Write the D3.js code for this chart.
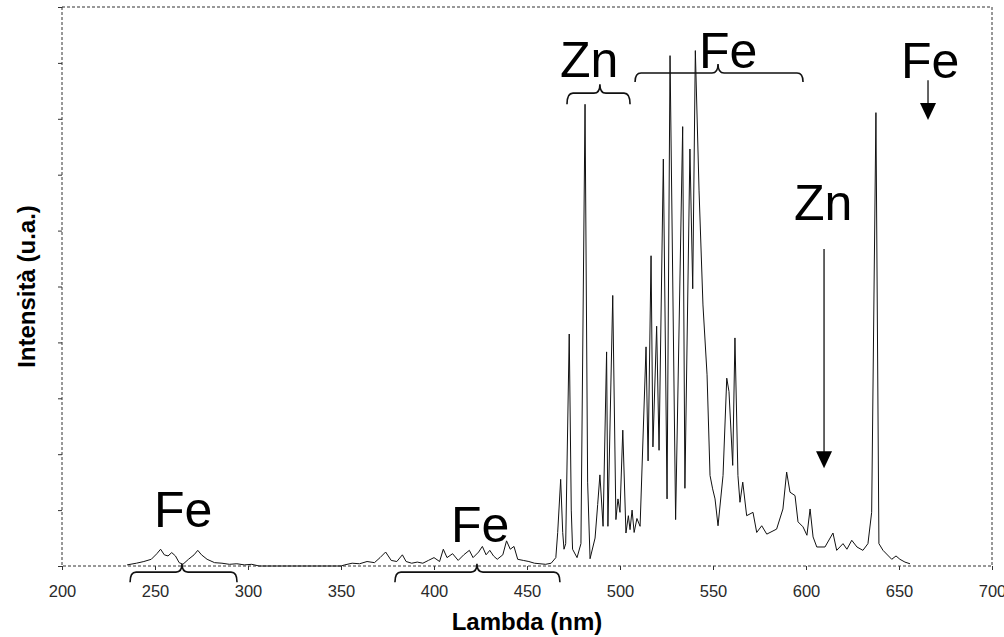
<!DOCTYPE html>
<html>
<head>
<meta charset="utf-8">
<script src="https://cdn.jsdelivr.net/npm/d3@7"></script>
<style>
  body { margin: 0; background: #fff; }
  text { font-family: "Liberation Sans", Arial, sans-serif; }
</style>
</head>
<body>
<svg id="chart" width="1004" height="637"></svg>
<script>
// spectrum: wavelength (nm) and intensity (arbitrary units, 0-10)
const lambda = [
  235, 240, 244, 248, 251, 253, 255, 257, 259, 261, 263, 265, 268, 271, 273, 275, 278, 282, 286, 290,
  294, 298, 302, 306, 350, 352, 356, 360, 364, 368, 371, 374, 377, 380, 383, 385, 388, 391, 394, 397,
  400, 403, 405, 407, 410, 413, 416, 419, 421, 424, 426, 428, 430, 432, 434, 437, 439, 441, 443, 445,
  448, 451, 454, 457, 460, 463, 465.5, 466.5, 468.1, 469.2, 469.9, 470.8, 472.7, 473.8, 474.5, 476.9,
  479.0, 481.2, 482.6, 483.9, 486.6, 488.0, 489.2, 490.9, 492.8, 493.5, 496.1, 497.8, 498.9, 500.0,
  501.5, 503.2, 504.5, 505.4, 506.5, 507.6, 509.1, 510.8, 514.0, 515.1, 516.7, 517.7, 519.7, 521.0,
  523.3, 525.3, 526.9, 529.9, 533.7, 534.9, 537.6, 539.1, 540.5, 542.5, 544.6, 546.8, 548.4, 549.8,
  551.1, 552.7, 555.4, 557.4, 558.6, 560.6, 561.8, 563.4, 564.5, 566.0, 568.1, 571.5, 573.5, 576.2,
  578.9, 584.2, 587.6, 589.6, 591.4, 594.1, 595.7, 598.4, 600.5, 602.2, 603.8, 605.8, 610.2, 614.5,
  616.5, 619.9, 622.0, 624.6, 627.4, 630.6, 633.3, 635.3, 637.6, 639.2, 641.4, 646.1, 648.4, 650.5,
  653.2, 655.9
];
const intensity = [
  0.02, 0.05, 0.08, 0.12, 0.22, 0.30, 0.20, 0.18, 0.24, 0.18, 0.06, 0.03, 0.12, 0.20, 0.28, 0.20, 0.12, 0.06, 0.05, 0.03,
  0.04, 0.02, 0.03, 0.00, 0.00, 0.02, 0.05, 0.04, 0.08, 0.06, 0.15, 0.25, 0.10, 0.08, 0.20, 0.08, 0.05, 0.07, 0.05, 0.10,
  0.15, 0.08, 0.30, 0.15, 0.22, 0.10, 0.20, 0.28, 0.15, 0.25, 0.35, 0.20, 0.28, 0.18, 0.12, 0.20, 0.45, 0.30, 0.35, 0.12,
  0.10, 0.08, 0.05, 0.04, 0.03, 0.05, 0.15, 0.60, 1.55, 0.60, 0.30, 0.40, 4.15, 1.00, 0.30, 0.15,
  0.40, 8.26, 1.50, 0.13, 0.50, 1.10, 1.63, 0.71, 3.83, 0.71, 4.84, 0.83, 1.20, 0.96,
  2.43, 0.59, 0.90, 0.65, 1.00, 0.60, 0.85, 0.71, 3.92, 1.88, 5.55, 2.13, 4.29, 2.07,
  7.28, 1.20, 9.13, 0.83, 7.86, 1.39, 7.46, 4.96, 9.22, 6.71, 4.67, 3.42, 1.62, 1.38,
  1.20, 0.72, 1.62, 3.36, 3.12, 1.80, 4.08, 1.62, 1.14, 1.50, 0.90, 0.96, 0.60, 0.72,
  0.57, 0.66, 1.02, 1.68, 1.32, 1.26, 0.79, 0.70, 0.55, 1.02, 0.52, 0.34, 0.34, 0.59,
  0.28, 0.40, 0.30, 0.46, 0.34, 0.28, 0.40, 0.96, 8.11, 0.40, 0.28, 0.12, 0.18, 0.12,
  0.07, 0.04
];

const xTicks = [200, 250, 300, 350, 400, 450, 500, 550, 600, 650, 700];
const yTicks = [0, 1, 2, 3, 4, 5, 6, 7, 8, 9, 10];

// element labels: text, wavelength of left edge, intensity of baseline
const labelText = ['Zn', 'Fe', 'Fe', 'Zn', 'Fe', 'Fe'];
const labelNm   = [467.7, 542.5, 651.1, 593.5, 249.5, 409.1];
const labelV    = [8.75, 8.91, 8.73, 6.19, 0.70, 0.43];

// braces: from, to, tip (nm); bar, tip and end levels (intensity)
const braceFrom = [471.5, 508.1, 236.6, 379.0];
const braceTo   = [505.4, 598.4, 294.1, 467.7];
const braceTip  = [489.2, 552.7, 264.5, 423.1];
const braceBar  = [8.46, 8.82, -0.11, -0.11];
const braceTipV = [8.62, 8.98, 0.04, 0.04];
const braceEnd  = [8.26, 8.66, -0.29, -0.29];

// arrows: wavelength, start and end intensity
const arrowNm   = [609.7, 665.6];
const arrowFrom = [5.67, 8.69];
const arrowTo   = [1.75, 7.98];

const W = 1004, H = 637;
const margin = {top: 7, right: 12, bottom: 71, left: 62};

const svg = d3.select('#chart');
svg.append('rect').attr('width', W).attr('height', H).attr('fill', '#fff');

const x = d3.scaleLinear().domain([200, 700]).range([margin.left, W - margin.right]);
const y = d3.scaleLinear().domain([0, 10]).range([H - margin.bottom, margin.top]);

// dashed frame
svg.append('rect')
  .attr('x', x(200)).attr('y', y(10))
  .attr('width', x(700) - x(200)).attr('height', y(0) - y(10))
  .attr('fill', 'none').attr('stroke', '#333').attr('stroke-width', 1)
  .attr('stroke-dasharray', '3,2');

const xAxis = svg.append('g')
  .attr('transform', `translate(0,${y(0)})`)
  .call(d3.axisBottom(x).tickValues(xTicks).tickSize(4).tickPadding(15));
xAxis.select('.domain').remove();
xAxis.selectAll('line').attr('stroke', '#333');
xAxis.selectAll('text')
  .attr('font-size', 16.5).attr('fill', '#2a2a2a')
  .attr('font-family', '"Liberation Sans", Arial, sans-serif');

const yAxis = svg.append('g')
  .attr('transform', `translate(${x(200)},0)`)
  .call(d3.axisLeft(y).tickValues(yTicks).tickSize(4).tickFormat(''));
yAxis.select('.domain').remove();
yAxis.selectAll('line').attr('stroke', '#333');

// spectrum
const pts = lambda.map((l, i) => ({nm: l, v: intensity[i]}));
const line = d3.line().x(d => x(d.nm)).y(d => y(d.v));
svg.append('path')
  .datum(pts)
  .attr('d', line)
  .attr('fill', 'none')
  .attr('stroke', '#111')
  .attr('stroke-width', 1);

// axis titles
svg.append('text')
  .attr('x', (x(200) + x(700)) / 2).attr('y', 630)
  .attr('text-anchor', 'middle')
  .attr('font-size', 24).attr('font-weight', 'bold')
  .text('Lambda (nm)');

svg.append('text')
  .attr('transform', `translate(35,${(y(0) + y(10)) / 2}) rotate(-90)`)
  .attr('text-anchor', 'middle')
  .attr('font-size', 24).attr('font-weight', 'bold')
  .text('Intensità (u.a.)');

// element labels
svg.selectAll('text.elem')
  .data(labelText)
  .enter().append('text')
  .attr('class', 'elem')
  .attr('x', (d, i) => x(labelNm[i]))
  .attr('y', (d, i) => y(labelV[i]))
  .attr('font-size', 50)
  .attr('fill', '#000')
  .text(d => d);

// curly braces
function bracePath(i) {
  const x1 = x(braceFrom[i]), x2 = x(braceTo[i]), xm = x(braceTip[i]);
  const yb = y(braceBar[i]), yt = y(braceTipV[i]), ye = y(braceEnd[i]);
  const r = 6;
  const p = d3.path();
  p.moveTo(x1, ye);
  p.quadraticCurveTo(x1, yb, x1 + r, yb);
  p.lineTo(xm - r, yb);
  p.quadraticCurveTo(xm, yb, xm, yt);
  p.quadraticCurveTo(xm, yb, xm + r, yb);
  p.lineTo(x2 - r, yb);
  p.quadraticCurveTo(x2, yb, x2, ye);
  return p.toString();
}
svg.selectAll('path.brace')
  .data(braceFrom)
  .enter().append('path')
  .attr('class', 'brace')
  .attr('d', (d, i) => bracePath(i))
  .attr('fill', 'none')
  .attr('stroke', '#111')
  .attr('stroke-width', 1.6);

// arrows
const headLen = 17, headHalf = 8;
arrowNm.forEach((nm, i) => {
  const ax = x(nm), y1 = y(arrowFrom[i]), y2 = y(arrowTo[i]);
  svg.append('line')
    .attr('x1', ax).attr('x2', ax)
    .attr('y1', y1).attr('y2', y2 - headLen + 2)
    .attr('stroke', '#111').attr('stroke-width', 1.3);
  svg.append('path')
    .attr('d', `M${ax - headHalf},${y2 - headLen}L${ax + headHalf},${y2 - headLen}L${ax},${y2}Z`)
    .attr('fill', '#000');
});
</script>
</body>
</html>
